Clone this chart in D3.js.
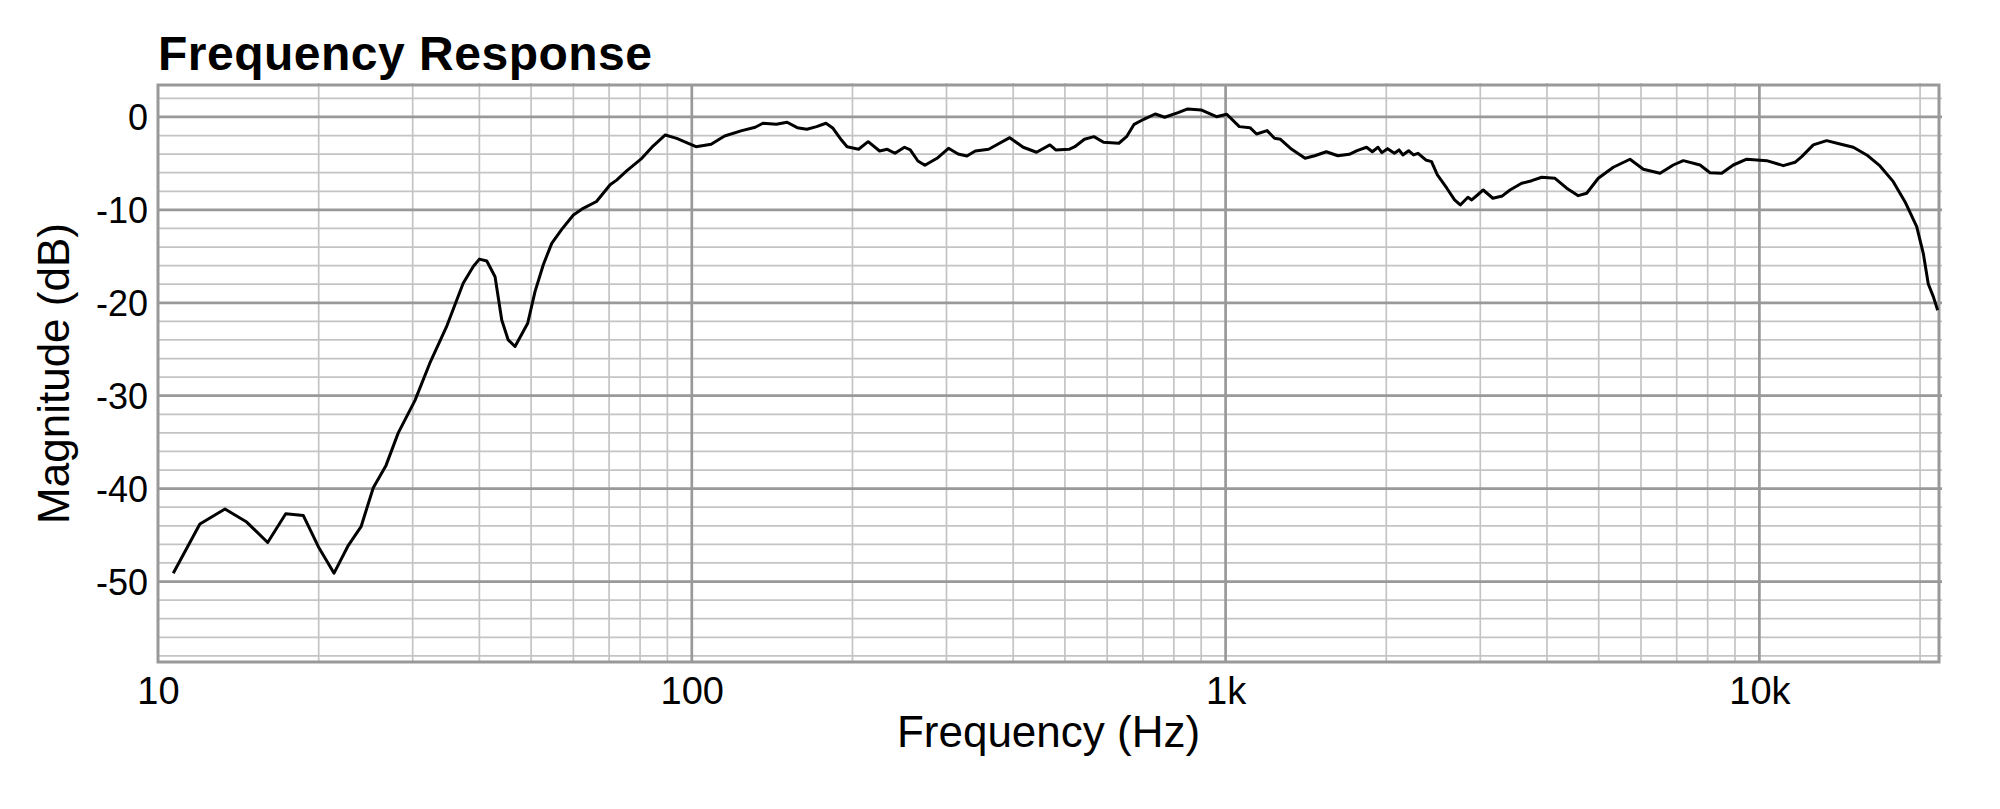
<!DOCTYPE html>
<html>
<head>
<meta charset="utf-8">
<script src="https://cdn.jsdelivr.net/npm/d3@7"></script>
<style>
  html, body { margin: 0; padding: 0; background: #fff; }
  svg { display: block; }
  text { font-family: "Liberation Sans", Arial, Helvetica, sans-serif; fill: #000; }
</style>
</head>
<body>
<svg id="chart" width="2000" height="809"></svg>
<script>
// ---------- data ----------
const chartTitle = "Frequency Response";
const xAxisTitle = "Frequency (Hz)";
const yAxisTitle = "Magnitude (dB)";

const xDomain = [10, 21700];
const yDomain = [-58.66, 3.44];

const xTickValues = [10, 100, 1000, 10000];
const xTickLabels = ["10", "100", "1k", "10k"];
const yTickValues = [0, -10, -20, -30, -40, -50];
const yTickLabels = ["0", "-10", "-20", "-30", "-40", "-50"];

const freq = [
  10.68, 11.98, 13.35, 14.66, 16.05, 17.35, 18.72, 19.97, 21.37, 22.73,
  24.01, 25.31, 26.74, 28.19, 30.3, 32.3, 34.7, 37.3, 38.96, 40.0,
  41.3, 42.8, 44.05, 45.3, 46.65, 49.27, 50.85, 52.7, 54.65, 57.06,
  60.0, 62.6, 66.3, 70.3, 72.3, 75.5, 80.6, 84.7, 89.2, 93.7,
  101.8, 108.7, 115.2, 124.1, 131.5, 135.9, 144.0, 150.8, 157.6, 164.3,
  171.3, 178.4, 183.9, 190.7, 195.4, 205.3, 214.0, 224.8, 232.4, 240.2,
  250.3, 256.6, 265.2, 273.3, 288.0, 302.6, 315.4, 327.6, 339.7, 359.9,
  372.0, 394.1, 417.6, 442.4, 468.7, 480.5, 509.1, 521.8, 543.9, 566.7,
  590.6, 631, 652.3, 674, 702.5, 738.1, 769, 814.7, 849.2, 899.7,
  961.2, 1005, 1061, 1111, 1143, 1196, 1235, 1267, 1330, 1409,
  1469, 1544, 1623, 1705, 1763, 1837, 1883, 1930, 1962, 2011,
  2071, 2113, 2148, 2202, 2249, 2294, 2371, 2431, 2493, 2597,
  2685, 2752, 2844, 2891, 2964, 3038, 3167, 3300, 3410, 3586,
  3745, 3911, 4141, 4355, 4578, 4747, 4991, 5325, 5722, 6061,
  6514, 6898, 7202, 7741, 8081, 8500, 8935, 9467, 10320, 11088,
  11661, 12003, 12618, 13366, 14158, 14995, 15888, 16824, 17815, 18737,
  19709, 20277, 20720, 21174, 21577
];
const magnitude = [
  -49.1, -43.8, -42.2, -43.6, -45.8, -42.7, -42.9, -46.25, -49.1, -46.1,
  -44.1, -39.9, -37.5, -34.0, -30.5, -26.5, -22.6, -17.9, -16.1, -15.3,
  -15.5, -17.2, -21.85, -24.0, -24.7, -22.2, -18.8, -15.9, -13.6, -12.1,
  -10.55, -9.83, -9.1, -7.3, -6.8, -5.8, -4.45, -3.1, -1.94, -2.3,
  -3.2, -2.94, -2.05, -1.47, -1.11, -0.68, -0.79, -0.57, -1.15, -1.32,
  -1.04, -0.68, -1.22, -2.48, -3.2, -3.48, -2.66, -3.66, -3.48, -3.91,
  -3.26, -3.55, -4.74, -5.2, -4.45, -3.37, -3.98, -4.2, -3.66, -3.48,
  -3.01, -2.23, -3.26, -3.8, -3.01, -3.55, -3.48, -3.2, -2.4, -2.12,
  -2.72, -2.83, -2.12, -0.79, -0.25, 0.32, -0.03, 0.46, 0.86, 0.75,
  0.03, 0.29, -1.04, -1.15, -1.83, -1.47, -2.29, -2.4, -3.48, -4.45,
  -4.17, -3.74, -4.17, -4.02, -3.63, -3.26, -3.74, -3.26, -3.84, -3.41,
  -3.91, -3.55, -4.09, -3.63, -4.09, -3.91, -4.63, -4.81, -6.24, -7.67,
  -8.93, -9.47, -8.64, -8.93, -8.4, -7.86, -8.75, -8.5, -7.86, -7.14,
  -6.86, -6.49, -6.6, -7.67, -8.47, -8.21, -6.6, -5.41, -4.55, -5.63,
  -6.06, -5.17, -4.7, -5.17, -6.0, -6.06, -5.17, -4.55, -4.7, -5.24,
  -4.88, -4.27, -3.01, -2.55, -2.91, -3.26, -4.09, -5.27, -6.96, -9.12,
  -11.8, -14.67, -17.98, -19.34, -20.8
];

// ---------- layout ----------
const plot = { left: 158, right: 1939, top: 85, bottom: 662 };

const svg = d3.select("#chart");

const x = d3.scaleLog().domain(xDomain).range([plot.left, plot.right]);
const y = d3.scaleLinear().domain(yDomain).range([plot.bottom, plot.top]);

const minorGrid = "#c4c4c4";
const majorGrid = "#999999";

// minor vertical grid (from the log scale's own ticks)
const xMinor = x.ticks().filter(v => xTickValues.indexOf(v) < 0 && v > xDomain[0] && v < xDomain[1]);
svg.append("g").selectAll("line").data(xMinor).join("line")
  .attr("x1", d => x(d)).attr("x2", d => x(d))
  .attr("y1", plot.top - 2).attr("y2", plot.bottom)
  .attr("stroke", minorGrid).attr("stroke-width", 1.7);

// minor horizontal grid every 2 dB
const yMinor = d3.range(-58, 3, 2).filter(v => yTickValues.indexOf(v) < 0);
svg.append("g").selectAll("line").data(yMinor).join("line")
  .attr("x1", plot.left).attr("x2", plot.right + 3)
  .attr("y1", d => y(d)).attr("y2", d => y(d))
  .attr("stroke", minorGrid).attr("stroke-width", 1.7);

// major grid
svg.append("g").selectAll("line").data(xTickValues.slice(1)).join("line")
  .attr("x1", d => x(d)).attr("x2", d => x(d))
  .attr("y1", plot.top).attr("y2", plot.bottom)
  .attr("stroke", majorGrid).attr("stroke-width", 2.7);
svg.append("g").selectAll("line").data(yTickValues).join("line")
  .attr("x1", plot.left).attr("x2", plot.right + 3)
  .attr("y1", d => y(d)).attr("y2", d => y(d))
  .attr("stroke", majorGrid).attr("stroke-width", 2.7);

// frame
svg.append("rect")
  .attr("x", plot.left).attr("y", plot.top)
  .attr("width", plot.right - plot.left).attr("height", plot.bottom - plot.top)
  .attr("fill", "none").attr("stroke", majorGrid).attr("stroke-width", 3);

// response curve
const pts = freq.map((f, i) => [f, magnitude[i]]);
svg.append("path")
  .datum(pts)
  .attr("fill", "none")
  .attr("stroke", "#000")
  .attr("stroke-width", 3)
  .attr("stroke-linejoin", "round")
  .attr("d", d3.line().x(d => x(d[0])).y(d => y(d[1])));

// axes (labels only)
const xAxis = d3.axisBottom(x).tickValues(xTickValues)
  .tickFormat((d, i) => xTickLabels[i]).tickSize(0).tickPadding(0);
const gx = svg.append("g").attr("transform", `translate(0,${plot.bottom})`).call(xAxis);
gx.select(".domain").remove();
gx.selectAll("text").attr("font-size", 38).attr("dy", null).attr("y", 42)
  .style("font-family", '"Liberation Sans", Arial, sans-serif').attr("fill", "#000");

const yAxis = d3.axisLeft(y).tickValues(yTickValues)
  .tickFormat((d, i) => yTickLabels[i]).tickSize(0).tickPadding(0);
const gy = svg.append("g").attr("transform", `translate(${plot.left - 10},0)`).call(yAxis);
gy.select(".domain").remove();
gy.selectAll("text").attr("font-size", 36).attr("dy", "0.36em")
  .style("font-family", '"Liberation Sans", Arial, sans-serif').attr("fill", "#000");

// titles
svg.append("text")
  .attr("x", plot.left).attr("y", 70)
  .attr("font-size", 48).attr("font-weight", "bold")
  .attr("letter-spacing", "0.5")
  .text(chartTitle);

svg.append("text")
  .attr("x", (plot.left + plot.right) / 2).attr("y", 747)
  .attr("text-anchor", "middle").attr("font-size", 44)
  .text(xAxisTitle);

svg.append("text")
  .attr("transform", `translate(69,${(plot.top + plot.bottom) / 2}) rotate(-90)`)
  .attr("text-anchor", "middle").attr("font-size", 44)
  .text(yAxisTitle);
</script>
</body>
</html>
